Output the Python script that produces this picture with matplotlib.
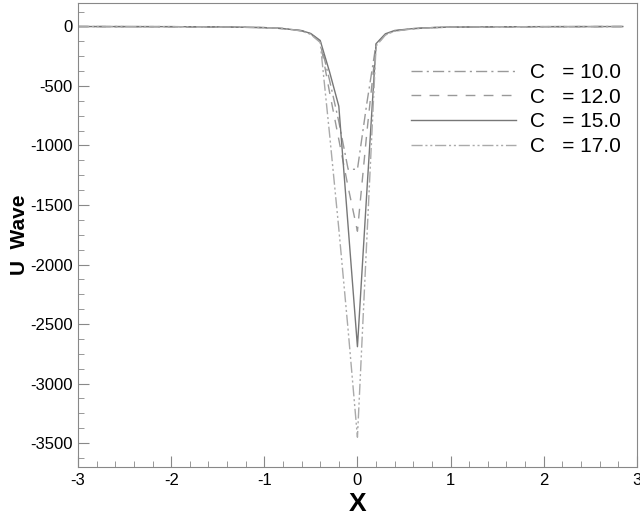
import numpy as np
import matplotlib
matplotlib.use('Agg')
import matplotlib.pyplot as plt
from matplotlib.ticker import MultipleLocator

plt.rcParams['font.family'] = ['Liberation Sans', 'DejaVu Sans']
plt.rcParams['axes.unicode_minus'] = False

# grid points along X (dense near the trough)
x = [-3.0, -2.0, -1.5, -1.0, -0.8, -0.6, -0.5, -0.4, -0.3, -0.2, -0.1,
     0.0, 0.1, 0.2, 0.3, 0.4, 0.6, 0.8, 1.0, 1.5, 2.0, 2.85]

# U wave for each C value
u_c10 = [-1, -2, -4, -10, -18, -36, -62, -125, -450, -800, -1200,
         -1200, -650, -150, -68, -38, -19, -10, -6, -3, -2, -1]
u_c12 = [-1, -2, -4, -10, -18, -37, -65, -130, -550, -950, -1350,
         -1720, -900, -160, -70, -38, -19, -10, -6, -3, -2, -1]
u_c15 = [-1, -2, -4, -10, -18, -35, -60, -118, -380, -670, -1680,
         -2690, -1400, -145, -62, -34, -18, -10, -6, -3, -2, -1]
u_c17 = [-1, -2, -4, -10, -18, -38, -68, -135, -900, -1700, -2550,
         -3450, -1800, -165, -72, -40, -20, -11, -6, -3, -2, -1]

labels = ['C   = 10.0', 'C   = 12.0', 'C   = 15.0', 'C   = 17.0']

fig = plt.figure(figsize=(6.4, 5.2), dpi=100)
ax = fig.add_axes([0.122, 0.102, 0.873, 0.893])

ax.plot(x, u_c10, color='#999999', lw=1.0, ls=(0, (8, 3, 1.5, 3)), label=labels[0])
ax.plot(x, u_c12, color='#999999', lw=1.0, ls=(0, (7, 6)), label=labels[1])
ax.plot(x, u_c15, color='#777777', lw=1.0, ls='-', label=labels[2])
ax.plot(x, u_c17, color='#aaaaaa', lw=1.0, ls=(0, (8, 2, 1.5, 2, 1.5, 2)), label=labels[3])

ax.set_xlim(-3, 3)
ax.set_ylim(-3700, 200)
ax.xaxis.set_major_locator(MultipleLocator(1))
ax.xaxis.set_minor_locator(MultipleLocator(0.2))
ax.yaxis.set_major_locator(MultipleLocator(500))
ax.yaxis.set_minor_locator(MultipleLocator(125))
ax.tick_params(which='both', direction='in', color='#888888', labelsize=12, pad=4)
ax.tick_params(which='major', length=8)
ax.tick_params(which='minor', length=4)
for s in ax.spines.values():
    s.set_color('#888888')

ax.set_xlabel('X', fontsize=19, fontweight='bold', labelpad=3)
ax.set_ylabel('U  Wave', fontsize=15, fontweight='bold', labelpad=1)

ax.legend(loc='upper right', bbox_to_anchor=(0.972, 0.87), frameon=False,
          fontsize=15, handlelength=5.0, handletextpad=0.7, labelspacing=0.27,
          borderpad=0, borderaxespad=0)

fig.savefig('out.png', dpi=100)
